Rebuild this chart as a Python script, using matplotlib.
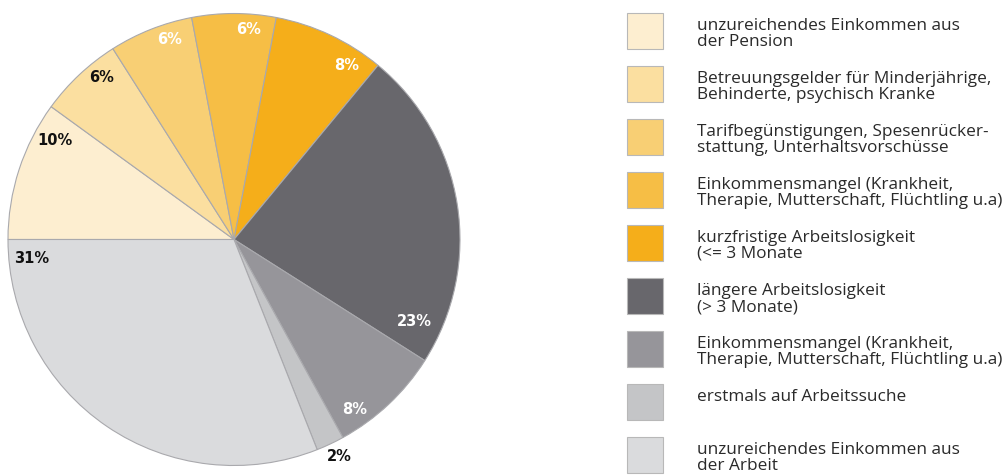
import matplotlib
matplotlib.use("Agg")
import matplotlib.pyplot as plt
from matplotlib.patches import Rectangle

categories = [
    "unzureichendes Einkommen aus\nder Pension",
    "Betreuungsgelder für Minderjährige,\nBehinderte, psychisch Kranke",
    "Tarifbegünstigungen, Spesenrücker-\nstattung, Unterhaltsvorschüsse",
    "Einkommensmangel (Krankheit,\nTherapie, Mutterschaft, Flüchtling u.a)",
    "kurzfristige Arbeitslosigkeit\n(<= 3 Monate",
    "längere Arbeitslosigkeit\n(> 3 Monate)",
    "Einkommensmangel (Krankheit,\nTherapie, Mutterschaft, Flüchtling u.a)",
    "erstmals auf Arbeitssuche",
    "unzureichendes Einkommen aus\nder Arbeit",
]
values = [10, 6, 6, 6, 8, 23, 8, 2, 31]
colors = ["#FDEED0", "#FBDFA0", "#F8CF74", "#F6BE45", "#F5AE1A",
          "#68676C", "#96959A", "#C4C5C7", "#DADBDD"]
label_colors = ["#111111", "#111111", "white", "white", "white",
                "white", "white", "#111111", "#111111"]
# label positions in pie data coordinates (radius = 1)
label_pos = [(-0.792, 0.440), (-0.588, 0.715), (-0.283, 0.883), (0.066, 0.927),
             (0.50, 0.768), (0.796, -0.365), (0.535, -0.750), (0.465, -0.962),
             (-0.894, -0.082)]

W, H = 1006, 475
fig = plt.figure(figsize=(W / 100, H / 100), dpi=100)
FONT = "Open Sans"

cx, cy, r = 234, 239.5, 226
ax = fig.add_axes([(cx - r) / W, (H - cy - r) / H, 2 * r / W, 2 * r / H])
ax.pie(values, colors=colors, startangle=180, counterclock=False, radius=1,
       wedgeprops=dict(edgecolor="#A9A9AD", linewidth=0.8))
ax.set_xlim(-1, 1)
ax.set_ylim(-1, 1)
ax.set_aspect("equal")
ax.axis("off")

for v, (x, y), c in zip(values, label_pos, label_colors):
    ax.text(x, y, f"{v}%", ha="center", va="center", color=c,
            fontsize=10.5, fontweight="bold", family="DejaVu Sans")

# legend
sw_x, sw_size, top0, step = 627, 36, 13, 53
tx = 697
for i, (lab, col) in enumerate(zip(categories, colors)):
    top = top0 + i * step
    fig.patches.append(Rectangle((sw_x / W, (H - top - sw_size) / H), sw_size / W, sw_size / H,
                                 transform=fig.transFigure, facecolor=col,
                                 edgecolor="#B8B8B8", linewidth=0.8))
    fig.text(tx / W, (H - top - 5) / H, lab, ha="left", va="top",
             fontsize=12.4, family=FONT, color="#2a2a2a", linespacing=1.0)

fig.savefig("out.png", dpi=100)
